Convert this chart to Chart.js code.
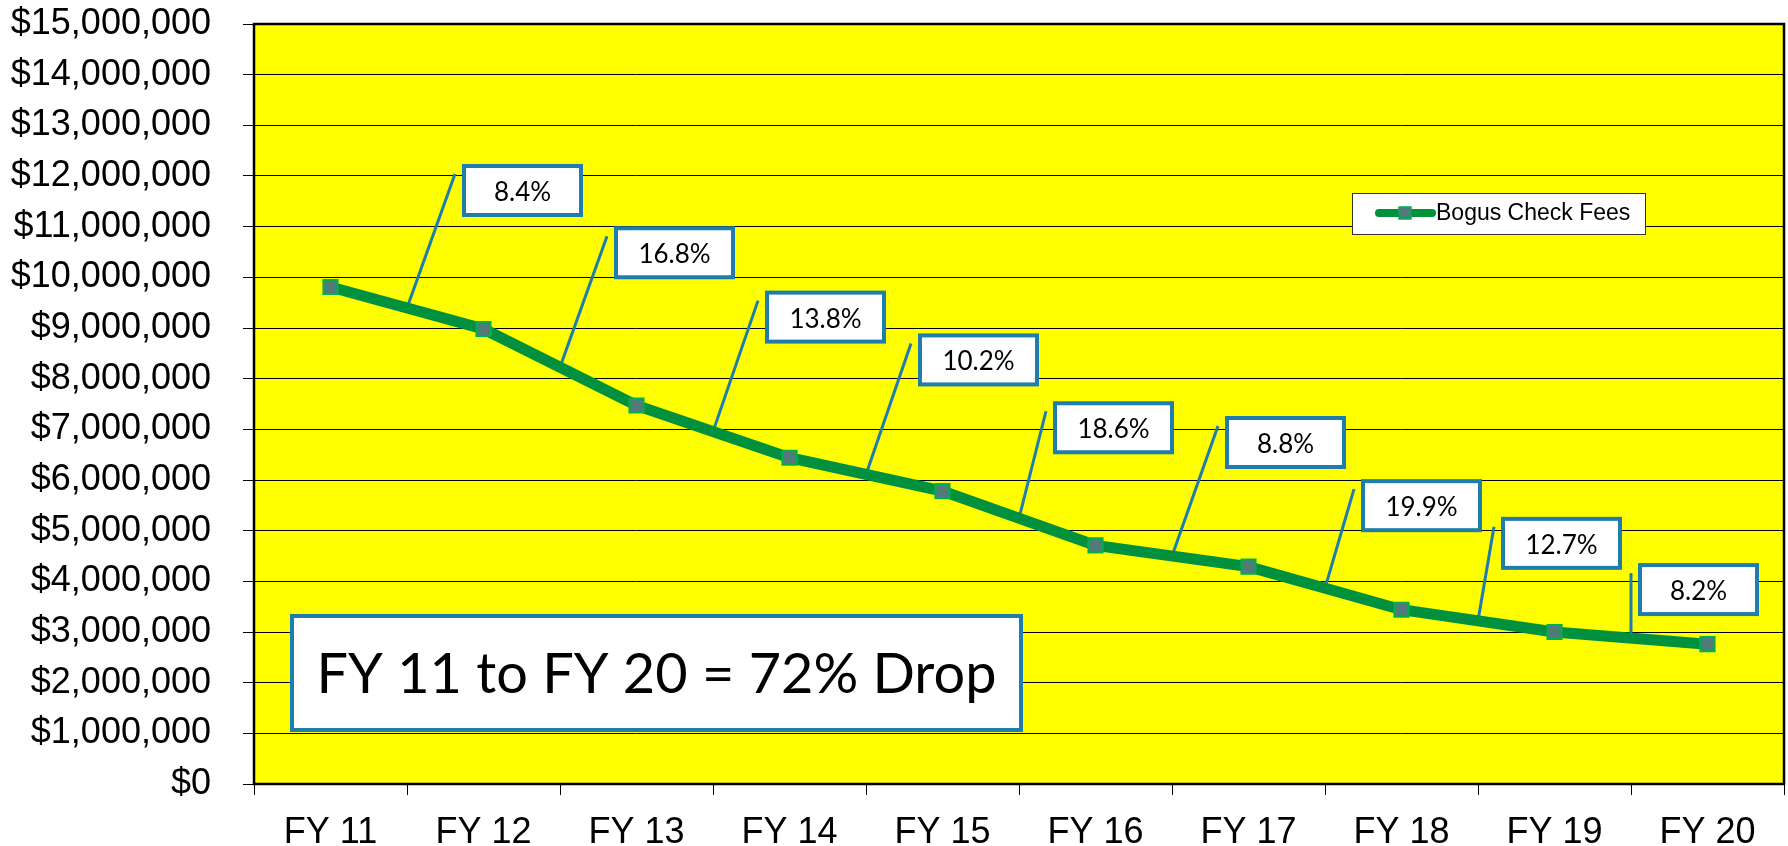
<!DOCTYPE html>
<html>
<head>
<meta charset="utf-8">
<title>Bogus Check Fees</title>
<script src="https://cdn.jsdelivr.net/npm/chart.js@4.4.0/dist/chart.umd.min.js"></script>
<style>
  html, body { margin: 0; padding: 0; background: #fff; }
  #wrap { width: 1788px; height: 846px; }
</style>
</head>
<body>
<div id="wrap"><canvas id="feesChart" width="1788" height="846"></canvas></div>
<script>
// data
const years = ['FY 11', 'FY 12', 'FY 13', 'FY 14', 'FY 15', 'FY 16', 'FY 17', 'FY 18', 'FY 19', 'FY 20'];
const fees = [9810000, 8980000, 7470000, 6440000, 5780000, 4710000, 4290000, 3440000, 3000000, 2760000];
const dropLabels = ['8.4%', '16.8%', '13.8%', '10.2%', '18.6%', '8.8%', '19.9%', '12.7%', '8.2%'];
const seriesName = 'Bogus Check Fees';
const summaryText = 'FY 11 to FY 20 = 72% Drop';
const yMax = 15000000;
const yStep = 1000000;

// layout of the callouts: leader end offset from segment midpoint (px)
const calloutLift = [[48, -134], [47, -131], [45, -131], [45, -131], [27, -107], [46, -130], [29, -99], [16, -94], [0, -65]];

const BLUE = '#1f7dab';
const GREEN = '#00913f';

const plotDecor = {
  id: 'plotDecor',
  beforeDraw(chart) {
    const { ctx, chartArea: a } = chart;
    ctx.save();
    ctx.fillStyle = '#ffff00';
    ctx.fillRect(a.left, a.top, a.right - a.left, a.bottom - a.top);
    ctx.restore();
  },
  beforeDatasetsDraw(chart) {
    const { ctx, chartArea: a } = chart;
    const pts = chart.getDatasetMeta(0).data;
    ctx.save();

    // plot border
    ctx.strokeStyle = '#000';
    ctx.lineWidth = 2.5;
    ctx.strokeRect(a.left, a.top, a.right - a.left, a.bottom - a.top);

    // callouts with leader lines
    ctx.font = '26px Lato';
    ctx.textAlign = 'center';
    ctx.textBaseline = 'middle';
    dropLabels.forEach((txt, i) => {
      const mx = (pts[i].x + pts[i + 1].x) / 2;
      const my = (pts[i].y + pts[i + 1].y) / 2;
      const tx = mx + calloutLift[i][0];
      const ty = my + calloutLift[i][1];
      ctx.strokeStyle = BLUE;
      ctx.lineWidth = 3;
      ctx.beginPath();
      ctx.moveTo(mx, my);
      ctx.lineTo(tx, ty);
      ctx.stroke();
      const bx = tx + 9, by = ty - 8, bw = 117, bh = 49;
      ctx.fillStyle = '#fff';
      ctx.fillRect(bx, by, bw, bh);
      ctx.lineWidth = 4;
      ctx.strokeRect(bx, by, bw, bh);
      ctx.fillStyle = '#000';
      ctx.fillText(txt, bx + bw / 2, by + bh / 2 + 2);
    });

    // summary box
    const sx = a.left + 38, sy = a.bottom - 168, sw = 729, sh = 114;
    ctx.fillStyle = '#fff';
    ctx.fillRect(sx, sy, sw, sh);
    ctx.strokeStyle = BLUE;
    ctx.lineWidth = 4;
    ctx.strokeRect(sx, sy, sw, sh);
    ctx.fillStyle = '#000';
    ctx.font = '56px Lato';
    const tw = ctx.measureText(summaryText).width;
    const squeeze = Math.min(1, 680 / tw);
    ctx.save();
    ctx.translate(sx + sw / 2, sy + sh / 2 + 2);
    ctx.scale(squeeze, 1);
    ctx.fillText(summaryText, 0, 0);
    ctx.restore();

    // legend
    const lx = a.right - 432, ly = a.top + 169, lw = 293, lh = 41;
    ctx.fillStyle = '#fff';
    ctx.fillRect(lx, ly, lw, lh);
    ctx.strokeStyle = '#333';
    ctx.lineWidth = 1;
    ctx.strokeRect(lx + 0.5, ly + 0.5, lw, lh);
    ctx.strokeStyle = GREEN;
    ctx.lineWidth = 8;
    ctx.lineCap = 'round';
    ctx.beginPath();
    ctx.moveTo(lx + 27, ly + 20);
    ctx.lineTo(lx + 80, ly + 20);
    ctx.stroke();
    ctx.fillStyle = '#527a78';
    ctx.fillRect(lx + 47, ly + 14, 12, 12);
    ctx.strokeStyle = '#00b050';
    ctx.lineWidth = 1.5;
    ctx.strokeRect(lx + 47, ly + 14, 12, 12);
    ctx.fillStyle = '#000';
    ctx.font = '23px "Liberation Sans"';
    ctx.textAlign = 'left';
    ctx.fillText(seriesName, lx + 84, ly + 21);

    ctx.restore();
  }
};

const ctx = document.getElementById('feesChart').getContext('2d');
new Chart(ctx, {
  type: 'line',
  data: {
    labels: years,
    datasets: [{
      label: seriesName,
      data: fees,
      borderColor: GREEN,
      borderWidth: 11,
      tension: 0,
      pointStyle: 'rect',
      pointRadius: 10,
      pointBackgroundColor: '#527a78',
      pointBorderColor: '#00b050',
      pointBorderWidth: 2
    }]
  },
  options: {
    responsive: false,
    animation: false,
    layout: { autoPadding: false, padding: { top: 24, right: 4, left: 0, bottom: 0 } },
    plugins: {
      legend: { display: false },
      tooltip: { enabled: false }
    },
    scales: {
      x: {
        offset: true,
        grid: { offset: true, drawOnChartArea: false, drawTicks: true, tickLength: 11, color: '#000', lineWidth: 1 },
        border: { display: false },
        ticks: { color: '#000', font: { family: 'Liberation Sans', size: 36 }, padding: 16, maxRotation: 0 },
        afterFit(scale) { scale.height = 62; scale.paddingLeft = 0; scale.paddingRight = 0; }
      },
      y: {
        min: 0,
        max: yMax,
        grid: { color: '#000', lineWidth: 1, tickLength: 11 },
        border: { display: false },
        ticks: {
          stepSize: yStep,
          color: '#000',
          font: { family: 'Liberation Sans', size: 36 },
          padding: 32,
          callback: v => '$' + v.toLocaleString('en-US')
        },
        afterFit(scale) { scale.width = 254; scale.paddingTop = 0; scale.paddingBottom = 0; }
      }
    }
  },
  plugins: [plotDecor]
});
</script>
</body>
</html>
